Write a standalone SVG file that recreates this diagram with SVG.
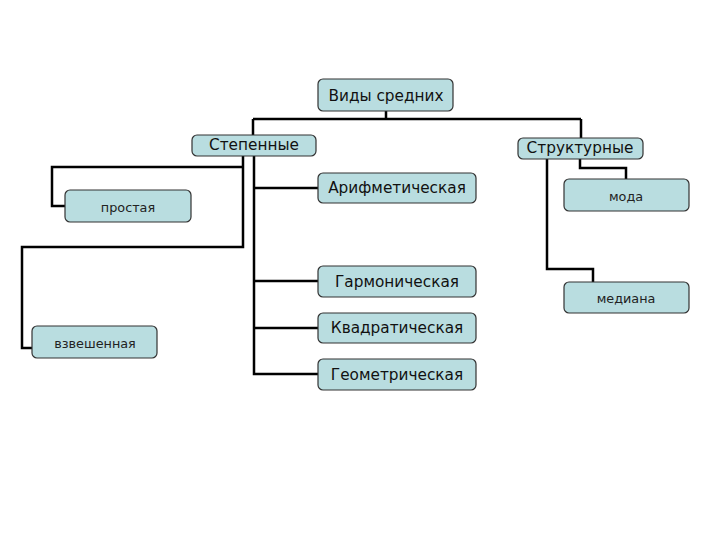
<svg xmlns="http://www.w3.org/2000/svg" width="720" height="540" viewBox="0 0 720 540">
<style>
.box{fill:#b9dde0;stroke:#333;stroke-width:1.2}
.t{font-family:"DejaVu Sans",Verdana,sans-serif;font-size:15.3px;fill:#111;text-anchor:middle;dominant-baseline:central}
.s{font-family:"DejaVu Sans",Verdana,sans-serif;font-size:12.8px;fill:#222;text-anchor:middle;dominant-baseline:central}
.c{fill:none;stroke:#000;stroke-width:2.5}
</style>
<rect width="720" height="540" fill="#fff"/>
<g id="connectors">
<path class="c" d="M386 111V119M253 119H581M253 119V135M581 119V138"/>
<path class="c" d="M243 156V247H22V348H32"/>
<path class="c" d="M243 167H52V206H65"/>
<path class="c" d="M254 156V374H318M254 188H318M254 281H318M254 328H318"/>
<path class="c" d="M547 159V269H593V282"/>
<path class="c" d="M580 159V168H626V179"/>
</g>
<g id="n-root"><rect class="box" x="318" y="79" width="135" height="32" rx="5"/><text class="t" x="386" y="96">Виды средних</text></g>
<g id="n-step"><rect class="box" x="192" y="135" width="124" height="21" rx="5"/><text class="t" x="254" y="145">Степенные</text></g>
<g id="n-struct"><rect class="box" x="518" y="138" width="125" height="21" rx="5"/><text class="t" x="580" y="148">Структурные</text></g>
<g id="n-prost"><rect class="box" x="65" y="190" width="126" height="32" rx="5"/><text class="s" x="128" y="207">простая</text></g>
<g id="n-vzv"><rect class="box" x="32" y="326" width="125" height="32" rx="5"/><text class="s" x="95" y="343">взвешенная</text></g>
<g id="n-arif"><rect class="box" x="318" y="173" width="158" height="30" rx="5"/><text class="t" x="397" y="188">Арифметическая</text></g>
<g id="n-garm"><rect class="box" x="318" y="266" width="158" height="31" rx="5"/><text class="t" x="397" y="282">Гармоническая</text></g>
<g id="n-kvad"><rect class="box" x="318" y="313" width="158" height="30" rx="5"/><text class="t" x="397" y="328">Квадратическая</text></g>
<g id="n-geom"><rect class="box" x="318" y="359" width="158" height="31" rx="5"/><text class="t" x="397" y="375">Геометрическая</text></g>
<g id="n-moda"><rect class="box" x="564" y="179" width="125" height="32" rx="5"/><text class="s" x="626" y="196">мода</text></g>
<g id="n-med"><rect class="box" x="564" y="282" width="125" height="31" rx="5"/><text class="s" x="626" y="298">медиана</text></g>
</svg>
